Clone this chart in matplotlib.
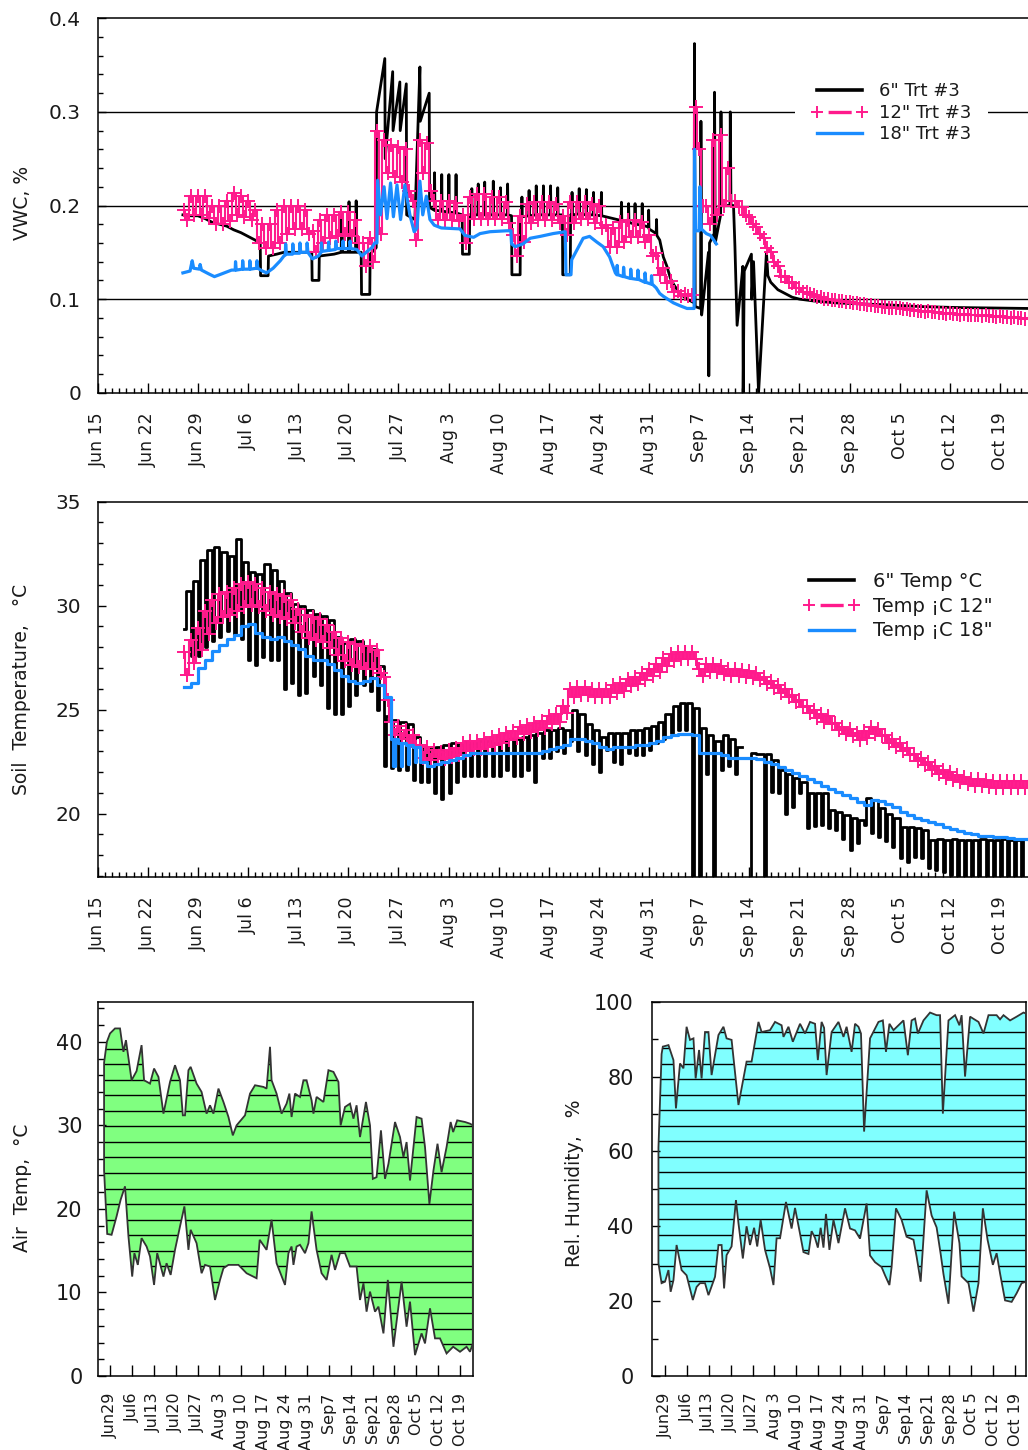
import numpy as np
import matplotlib
matplotlib.use("Agg")
import matplotlib.pyplot as plt
from matplotlib.lines import Line2D
from matplotlib.ticker import MultipleLocator, FixedLocator

plt.rcParams['font.family'] = ['DejaVu Sans']
plt.rcParams['lines.scale_dashes'] = False

# ---------------- DATA (day 0 = Jun 15) ----------------
week_labels = ["Jun 15", "Jun 22", "Jun 29", "Jul 6", "Jul 13", "Jul 20", "Jul 27",
               "Aug 3", "Aug 10", "Aug 17", "Aug 24", "Aug 31", "Sep 7", "Sep 14",
               "Sep 21", "Sep 28", "Oct 5", "Oct 12", "Oct 19"]
week_labels_small = ["Jun29", "Jul6", "Jul13", "Jul20", "Jul27", "Aug 3", "Aug 10",
                     "Aug 17", "Aug 24", "Aug 31", "Sep7", "Sep14", "Sep21", "Sep28",
                     "Oct 5", "Oct 12", "Oct 19"]
daily_days = list(range(12, 131))

# 6" VWC (day, value)
vwc6_points = [
    (11.9, 0.190), (13, 0.189), (14, 0.189), (15, 0.186), (16, 0.182), (17, 0.180), (18, 0.178),
    (19, 0.174), (20, 0.171), (21, 0.167), (22, 0.163), (22.7, 0.160), (22.75, 0.125), (23.8, 0.125),
    (23.85, 0.146), (25, 0.148), (26, 0.150), (27, 0.150), (28, 0.150), (29, 0.150), (29.9, 0.150),
    (29.95, 0.120), (30.9, 0.120), (30.95, 0.146), (32, 0.147), (33, 0.148), (34, 0.150),
    (34.1, 0.190), (34.2, 0.150), (35, 0.150), (35.1, 0.204), (35.2, 0.150), (36, 0.150),
    (36.1, 0.205), (36.2, 0.150), (36.8, 0.150), (36.85, 0.105), (38, 0.105), (38.05, 0.148),
    (38.9, 0.155), (38.95, 0.300), (40.1, 0.357), (40.15, 0.250), (41.2, 0.343), (41.25, 0.280),
    (42.2, 0.332), (42.25, 0.280), (43.1, 0.330), (43.15, 0.190), (44.3, 0.185), (45.0, 0.348),
    (45.05, 0.290), (46.3, 0.320), (46.35, 0.198), (47.0, 0.195), (47.05, 0.235), (47.1, 0.195),
    (48.0, 0.194), (48.05, 0.233), (48.1, 0.194), (49.0, 0.193), (49.05, 0.233), (49.1, 0.193),
    (50.0, 0.192), (50.05, 0.233), (50.1, 0.192), (50.9, 0.190), (50.95, 0.148), (51.9, 0.148),
    (51.95, 0.190), (52.2, 0.190), (52.25, 0.218), (52.3, 0.190), (53.1, 0.190), (53.15, 0.223),
    (53.2, 0.190), (54.0, 0.190), (54.05, 0.225), (54.1, 0.190), (55.2, 0.190), (55.25, 0.226),
    (55.3, 0.190), (56.2, 0.190), (56.25, 0.219), (56.3, 0.190), (57.2, 0.190), (57.25, 0.223),
    (57.3, 0.190), (57.8, 0.189), (57.85, 0.126), (59.0, 0.126), (59.05, 0.188), (59.2, 0.188),
    (59.25, 0.209), (59.3, 0.188), (60.2, 0.189), (60.25, 0.216), (60.3, 0.189), (61.2, 0.190),
    (61.25, 0.221), (61.3, 0.190), (62.2, 0.190), (62.25, 0.221), (62.3, 0.190), (63.2, 0.190),
    (63.25, 0.221), (63.3, 0.190), (64.2, 0.190), (64.25, 0.219), (64.3, 0.190), (64.9, 0.190),
    (64.95, 0.126), (66.0, 0.126), (66.05, 0.190), (66.2, 0.190), (66.25, 0.214), (66.3, 0.190),
    (67.2, 0.191), (67.25, 0.218), (67.3, 0.191), (68.2, 0.190), (68.25, 0.217), (68.3, 0.190),
    (69.2, 0.190), (69.25, 0.214), (69.3, 0.190), (70.3, 0.189), (70.35, 0.214), (70.4, 0.189),
    (72.0, 0.186), (73.1, 0.184), (73.15, 0.2035), (73.2, 0.184), (74.1, 0.182), (74.15, 0.202),
    (74.2, 0.182), (75.0, 0.180), (75.05, 0.202), (75.1, 0.180), (76.0, 0.179), (76.05, 0.202),
    (76.1, 0.179), (76.9, 0.177), (76.95, 0.195), (77.0, 0.175), (78.0, 0.170), (78.05, 0.185),
    (78.1, 0.168), (78.5, 0.163), (79.0, 0.145), (79.5, 0.135), (80.0, 0.122), (80.5, 0.115),
    (81.3, 0.106), (82.3, 0.100), (83.3, 0.096), (83.35, 0.373), (83.45, 0.092), (84.2, 0.090),
    (84.25, 0.290), (84.35, 0.083), (84.6, 0.100), (85.3, 0.150), (85.35, 0.018), (85.45, 0.160),
    (86.1, 0.170), (86.15, 0.321), (86.25, 0.160), (87.0, 0.190), (87.05, 0.300), (87.15, 0.200),
    (88.3, 0.200), (88.35, 0.300), (88.45, 0.200), (88.8, 0.200), (89.0, 0.156), (89.3, 0.072),
    (89.8, 0.110), (90.1, 0.135), (90.15, 0.000), (90.3, 0.130), (91.3, 0.148), (91.35, 0.100),
    (91.6, 0.140), (92.3, 0.000), (93.4, 0.150), (93.6, 0.125), (94, 0.118), (95, 0.110),
    (96, 0.106), (97, 0.102), (98, 0.100), (100, 0.098), (103, 0.096), (106, 0.095), (110, 0.094),
    (115, 0.092), (120, 0.091), (125, 0.0905), (130, 0.090)]

# 12" VWC, two samples per day (first half / second half of day)
vwc12_am = [0.195, 0.210, 0.210, 0.210, 0.200, 0.200, 0.205, 0.213, 0.210, 0.205,
            0.195, 0.180, 0.180, 0.195, 0.200, 0.200, 0.200, 0.195, 0.173, 0.185,
            0.190, 0.190, 0.193, 0.193, 0.185, 0.160, 0.165, 0.280, 0.270, 0.265,
            0.263, 0.260, 0.205, 0.270, 0.267, 0.205, 0.205, 0.205, 0.203, 0.190,
            0.209, 0.212, 0.212, 0.209, 0.209, 0.204, 0.169, 0.189, 0.202, 0.204,
            0.204, 0.204, 0.202, 0.189, 0.204, 0.204, 0.204, 0.202, 0.199, 0.179,
            0.176, 0.182, 0.184, 0.184, 0.182, 0.169, 0.149, 0.133, 0.119, 0.109,
            0.105, 0.104, 0.260, 0.200, 0.270, 0.275, 0.240, 0.205, 0.198, 0.188,
            0.177, 0.165, 0.150, 0.135, 0.124, 0.117, 0.112, 0.108, 0.104, 0.102,
            0.100, 0.099, 0.098, 0.097, 0.096, 0.095, 0.094, 0.093, 0.092, 0.091,
            0.090, 0.089, 0.088, 0.0875, 0.087, 0.086, 0.0855, 0.085, 0.0845, 0.084,
            0.0835, 0.083, 0.0825, 0.082, 0.0815, 0.081, 0.0805, 0.080, 0.0795]
vwc12_pm = [0.185, 0.190, 0.190, 0.187, 0.180, 0.180, 0.183, 0.190, 0.188, 0.185,
            0.160, 0.155, 0.155, 0.160, 0.170, 0.175, 0.175, 0.170, 0.150, 0.160,
            0.165, 0.167, 0.170, 0.167, 0.160, 0.135, 0.140, 0.170, 0.235, 0.230,
            0.225, 0.215, 0.163, 0.235, 0.215, 0.185, 0.185, 0.185, 0.183, 0.160,
            0.186, 0.186, 0.186, 0.186, 0.186, 0.181, 0.146, 0.161, 0.181, 0.184,
            0.184, 0.184, 0.181, 0.168, 0.181, 0.186, 0.186, 0.181, 0.176, 0.156,
            0.156, 0.161, 0.166, 0.166, 0.161, 0.146, 0.126, 0.117, 0.108, 0.103,
            0.103, 0.305, 0.200, 0.180, 0.190, 0.200, 0.205, 0.198, 0.190, 0.180,
            0.170, 0.155, 0.140, 0.125, 0.118, 0.112, 0.108, 0.105, 0.102, 0.100,
            0.099, 0.098, 0.097, 0.096, 0.095, 0.094, 0.093, 0.092, 0.091, 0.090,
            0.089, 0.088, 0.087, 0.0865, 0.086, 0.085, 0.0845, 0.084, 0.0835, 0.083,
            0.0825, 0.082, 0.0815, 0.081, 0.0805, 0.080, 0.0795, 0.079, 0.0785]

# 18" VWC (day, value)
vwc18_points = [
    (11.9, 0.128), (12.9, 0.130), (13.0, 0.134), (13.2, 0.141), (13.4, 0.133), (14.2, 0.132),
    (14.3, 0.137), (14.5, 0.131), (15.5, 0.127), (16.3, 0.124), (17.0, 0.126), (18.0, 0.129),
    (18.7, 0.131), (19.2, 0.131), (19.25, 0.140), (19.35, 0.131), (20.2, 0.132), (20.25, 0.141),
    (20.35, 0.132), (21.2, 0.132), (21.25, 0.141), (21.35, 0.132), (22.2, 0.133), (22.25, 0.141),
    (22.35, 0.133), (23.0, 0.130), (23.6, 0.128), (24.5, 0.133), (25.5, 0.141), (26.0, 0.146),
    (26.2, 0.147), (26.25, 0.159), (26.35, 0.148), (27.2, 0.148), (27.25, 0.159), (27.35, 0.149),
    (28.2, 0.149), (28.25, 0.160), (28.35, 0.150), (29.2, 0.150), (29.25, 0.160), (29.35, 0.150),
    (30.0, 0.143), (30.8, 0.146), (31.2, 0.150), (31.25, 0.160), (31.35, 0.151), (32.2, 0.152),
    (32.25, 0.161), (32.35, 0.152), (33.2, 0.153), (33.25, 0.162), (33.35, 0.154), (34.2, 0.154),
    (34.25, 0.162), (34.35, 0.154), (35.2, 0.154), (35.25, 0.162), (35.35, 0.154), (36.2, 0.153),
    (36.9, 0.146), (37.8, 0.152), (38.3, 0.155), (38.7, 0.160), (39.0, 0.160), (39.1, 0.227),
    (39.5, 0.190), (40.0, 0.220), (40.4, 0.186), (40.9, 0.224), (41.3, 0.188), (41.8, 0.222),
    (42.3, 0.185), (42.9, 0.222), (43.6, 0.190), (44.2, 0.172), (44.6, 0.176), (45.0, 0.226),
    (45.4, 0.190), (45.9, 0.210), (46.4, 0.185), (47.0, 0.179), (48.0, 0.176), (50.6, 0.175),
    (51.3, 0.168), (52.5, 0.166), (53.4, 0.170), (54.8, 0.172), (57.1, 0.173), (57.7, 0.173),
    (57.8, 0.159), (58.3, 0.156), (59.4, 0.159), (60.4, 0.165), (61.8, 0.167), (63.6, 0.170),
    (65.3, 0.172), (65.4, 0.126), (66.1, 0.126), (66.2, 0.142), (66.9, 0.152), (67.8, 0.165),
    (68.7, 0.167), (69.7, 0.161), (70.6, 0.156), (71.5, 0.145), (72.3, 0.128), (72.5, 0.126),
    (72.55, 0.136), (72.65, 0.126), (73.4, 0.124), (73.45, 0.134), (73.55, 0.124), (74.4, 0.122),
    (74.45, 0.132), (74.55, 0.122), (75.4, 0.121), (75.45, 0.131), (75.55, 0.121), (76.4, 0.118),
    (76.45, 0.128), (76.55, 0.118), (77.3, 0.116), (77.35, 0.125), (77.45, 0.116), (78.0, 0.112),
    (78.5, 0.106), (79.0, 0.103), (79.6, 0.100), (80.4, 0.096), (81.3, 0.093), (82.3, 0.090),
    (83.3, 0.090), (83.35, 0.260), (83.5, 0.173), (84.0, 0.173), (84.1, 0.220), (84.3, 0.175),
    (85.0, 0.170), (85.6, 0.168), (86.4, 0.159)]

# 6" soil temperature: daily high / low (10 = off-scale low)
nan = float('nan')
temp6_hi = [30.7, 31.2, 32.2, 32.7, 32.8, 32.6, 32.4, 33.2, 32.1, 31.6,
            31.5, 32.0, 31.7, 31.2, 30.6, 30.1, 30.0, 29.8, 29.6, 29.5,
            29.3, 28.5, 28.2, 28.4, 28.3, 28.0, 27.9, 27.1, 24.7, 24.5,
            24.4, 24.3, 23.7, 23.2, 23.2, 23.2, 23.3, 23.4, 23.4, 23.45,
            23.4, 23.5, 23.5, 23.4, 23.5, 23.6, 23.6, 23.7, 23.8, 23.9,
            24.0, 24.0, 24.1, 24.0, 25.0, 24.8, 24.3, 24.0, 23.7, 23.9,
            23.9, 23.9, 24.0, 24.0, 24.1, 24.2, 24.4, 24.8, 25.2, 25.3,
            25.3, 25.1, 24.1, 23.8, 23.5, 23.8, 23.6, 23.2, nan, 22.9,
            22.85, 22.86, 22.6, 22.1, 21.9, 21.7, 21.54, 20.98, 20.98, 20.98,
            20.18, 20.1, 19.94, 19.78, 19.7, 20.74, 20.66, 20.26, 20.0, 19.8,
            19.37, 19.37, 19.3, 19.2, 18.74, 18.8, 18.74, 18.8, 18.74, 18.74,
            18.74, 18.8, 18.74, 18.74, 18.8, 18.74, 18.74, 18.8, 18.74]
temp6_lo = [28.9, 27.6, 27.6, 28.0, 28.3, 28.5, 28.8, 28.6, 28.4, 27.4,
            27.15, 27.55, 27.4, 27.4, 26.0, 26.3, 25.7, 25.8, 26.6, 26.2,
            25.1, 24.8, 24.8, 25.2, 25.7, 26.2, 25.9, 25.0, 22.3, 22.2,
            22.1, 22.1, 21.6, 21.5, 21.5, 21.0, 20.7, 21.0, 21.5, 21.8,
            21.8, 21.8, 21.8, 21.8, 21.8, 22.1, 21.8, 21.8, 22.1, 21.5,
            22.66, 22.66, 23.0, 22.9, 23.5, 23.0, 22.8, 22.4, 22.0, 23.06,
            22.5, 22.4, 22.9, 22.8, 22.8, 23.06, 23.4, 23.6, 23.86, 24.0,
            24.0, 10.0, 10.0, 21.9, 10.0, 22.1, 22.3, 21.9, nan, 10.0,
            22.85, 10.0, 21.06, 20.98, 20.0, 20.34, 20.98, 19.3, 19.4, 19.46,
            19.3, 19.2, 18.8, 18.25, 18.57, 19.46, 19.05, 18.9, 18.7, 18.4,
            17.85, 17.7, 17.93, 17.85, 17.37, 17.3, 17.2, 17.06, 16.5, 16.5,
            16.5, 16.5, 16.5, 16.5, 16.5, 16.5, 16.5, 16.5, 16.5]

# 12" soil temperature: daily mid value and half spread
temp12_mid = [27.2, 27.8, 28.4, 29.2, 29.7, 30.0, 30.1, 30.3, 30.5, 30.6,
              30.5, 30.3, 30.1, 30.0, 29.9, 29.7, 29.3, 29.0, 28.9, 28.8,
              28.5, 28.2, 27.9, 27.7, 27.6, 27.5, 27.5, 27.3, 26.0, 24.1,
              23.9, 23.7, 23.5, 23.0, 22.9, 22.9, 22.8, 22.9, 23.0, 23.2,
              23.3, 23.3, 23.4, 23.5, 23.6, 23.7, 23.8, 24.0, 24.1, 24.2,
              24.3, 24.5, 24.6, 25.0, 25.8, 25.9, 25.9, 25.8, 25.8, 25.8,
              26.0, 26.1, 26.3, 26.4, 26.6, 26.8, 27.0, 27.3, 27.5, 27.6,
              27.6, 27.6, 26.8, 27.0, 27.0, 26.9, 26.8, 26.8, 26.75, 26.7,
              26.6, 26.4, 26.2, 26.0, 25.8, 25.55, 25.3, 25.0, 24.8, 24.6,
              24.5, 24.2, 24.0, 23.9, 23.7, 23.8, 24.0, 23.9, 23.6, 23.4,
              23.2, 23.0, 22.7, 22.5, 22.3, 22.1, 21.9, 21.8, 21.7, 21.6,
              21.5, 21.5, 21.45, 21.4, 21.4, 21.4, 21.4, 21.4, 21.4]
temp12_half = [0.55] * 29 + [0.3] * 6 + [0.18] * 84

# 18" soil temperature: daily value, plus short dips
temp18 = [26.1, 26.3, 27.0, 27.4, 27.8, 28.1, 28.4, 28.6, 29.0, 29.1,
          28.7, 28.5, 28.4, 28.5, 28.3, 28.1, 27.9, 27.6, 27.4, 27.4,
          27.2, 26.9, 26.6, 26.4, 26.3, 26.4, 26.5, 26.2, 25.6, 23.6,
          23.4, 23.3, 23.2, 22.5, 22.3, 22.4, 22.5, 22.6, 22.7, 22.8,
          22.9, 22.9, 22.9, 22.9, 22.9, 22.9, 22.9, 22.9, 22.9, 22.9,
          23.0, 23.1, 23.2, 23.3, 23.6, 23.6, 23.5, 23.4, 23.2, 23.1,
          23.2, 23.2, 23.2, 23.3, 23.3, 23.4, 23.5, 23.7, 23.8, 23.85,
          23.85, 23.8, 22.9, 22.9, 22.9, 22.8, 22.7, 22.7, 22.7, 22.7,
          22.65, 22.5, 22.4, 22.25, 22.1, 21.95, 21.8, 21.65, 21.5, 21.35,
          21.2, 21.05, 20.9, 20.75, 20.55, 20.4, 20.65, 20.6, 20.45, 20.3,
          20.1, 19.95, 19.8, 19.7, 19.6, 19.5, 19.35, 19.25, 19.15, 19.05,
          19.0, 18.95, 18.95, 18.9, 18.9, 18.85, 18.8, 18.8, 18.8]
temp18_dip_days = [41, 42, 43, 44]
temp18_dip_vals = [22.3, 22.3, 22.4, 22.5]

# Air temperature envelope (day, degC)
air_max = [(12.1, 37.5), (13.0, 40.0), (14.0, 41.0), (15.6, 41.6), (17.2, 41.6), (17.8, 40.0),
           (18.3, 38.8), (19.1, 40.2), (20.9, 35.4), (22.5, 36.5), (24.1, 39.6), (24.9, 35.4),
           (26.8, 35.0), (28.1, 36.8), (29.5, 35.8), (31.1, 31.4), (33.2, 35.2), (34.8, 37.2),
           (36.4, 35.4), (37.3, 31.2), (38.0, 31.2), (39.1, 36.6), (39.8, 37.0), (41.7, 35.0),
           (43.3, 34.0), (44.9, 31.4), (46.0, 32.4), (47.1, 31.4), (48.7, 34.4), (50.3, 32.8),
           (51.9, 31.0), (53.3, 28.8), (54.5, 30.0), (57.2, 31.2), (58.8, 33.8), (60.4, 34.8),
           (63.1, 34.6), (64.1, 34.4), (65.2, 39.4), (65.7, 35.4), (67.3, 33.8), (68.9, 31.4),
           (70.5, 32.6), (71.4, 33.8), (72.1, 31.0), (73.2, 33.8), (74.8, 33.4), (75.9, 35.4),
           (76.9, 35.4), (78.5, 33.0), (79.1, 31.4), (80.1, 33.4), (82.3, 32.8), (83.9, 36.6),
           (85.5, 36.4), (87.1, 35.2), (87.8, 30.0), (89.2, 32.2), (90.8, 32.6), (91.9, 30.8),
           (92.9, 32.4), (94.0, 28.6), (95.9, 32.8), (97.2, 30.0), (98.1, 23.6), (99.3, 23.8),
           (100.7, 29.4), (102.0, 23.6), (103.1, 25.4), (105.2, 30.4), (106.8, 28.6), (107.9, 26.2),
           (108.9, 28.0), (110.0, 23.4), (112.1, 31.0), (113.7, 30.8), (114.8, 27.4), (116.2, 20.6),
           (117.5, 24.6), (118.8, 27.8), (120.1, 24.4), (121.7, 27.4), (123.0, 30.4), (123.8, 29.2),
           (125.1, 30.6), (127.6, 30.4), (129.2, 30.2), (130.1, 30.0)]
air_min = [(12.1, 24.6), (13.1, 17.0), (14.5, 16.9), (16.1, 19.1), (17.4, 21.1), (18.8, 22.7),
           (19.9, 16.7), (21.1, 11.9), (21.8, 14.7), (22.9, 13.3), (24.1, 16.5), (25.7, 15.5),
           (26.8, 14.3), (28.1, 10.9), (29.1, 14.7), (31.1, 11.9), (32.1, 13.5), (33.4, 12.1),
           (34.8, 15.1), (36.4, 17.9), (37.8, 20.3), (39.1, 15.1), (39.8, 17.5), (41.7, 15.9),
           (43.3, 12.3), (44.4, 13.3), (46.0, 13.1), (47.6, 9.1), (49.2, 11.5), (50.3, 12.9),
           (51.9, 13.3), (55.1, 13.3), (57.7, 12.3), (60.9, 11.7), (61.9, 16.3), (64.1, 15.1),
           (65.7, 18.7), (67.3, 13.5), (70.0, 10.9), (71.1, 14.7), (72.1, 15.5), (72.7, 13.3),
           (73.7, 15.5), (74.8, 15.7), (76.4, 14.7), (77.5, 15.9), (78.5, 19.7), (80.1, 15.1),
           (81.7, 12.3), (83.3, 11.5), (84.9, 14.5), (86.0, 12.7), (87.6, 14.7), (89.2, 14.7),
           (90.8, 13.1), (92.9, 13.1), (94.0, 9.1), (95.1, 11.1), (96.1, 7.7), (97.2, 10.1),
           (98.8, 7.7), (99.9, 8.3), (101.5, 5.1), (102.9, 11.5), (104.7, 3.5), (106.3, 8.3),
           (107.3, 11.3), (108.9, 5.9), (110.0, 8.9), (111.6, 2.5), (113.7, 5.1), (114.8, 3.9),
           (116.4, 8.1), (118.0, 4.5), (119.6, 4.5), (121.7, 2.7), (123.8, 3.5), (126.0, 2.9),
           (128.1, 3.5), (129.2, 2.9), (130.1, 3.9)]

# Relative humidity envelope (day, %)
rh_max = [(11.9, 61.0), (12.9, 86.0), (13.3, 88.0), (15.1, 88.4), (16.7, 84.4), (17.5, 71.5),
          (18.8, 83.5), (19.9, 82.2), (20.9, 93.3), (22.0, 89.8), (23.1, 90.2), (23.8, 79.5),
          (24.9, 87.1), (25.7, 79.5), (26.8, 91.9), (27.9, 91.9), (28.9, 80.4), (31.1, 91.1),
          (32.7, 93.3), (33.7, 90.2), (35.3, 89.8), (37.5, 72.4), (40.1, 84.0), (41.7, 84.0),
          (43.9, 94.6), (44.9, 91.9), (47.6, 92.4), (49.2, 94.6), (51.3, 93.7), (51.9, 90.6),
          (53.5, 93.3), (54.9, 89.3), (57.2, 94.1), (58.8, 91.5), (60.4, 94.6), (62.0, 94.1),
          (62.9, 84.4), (64.1, 94.6), (64.9, 93.0), (65.7, 80.4), (67.3, 91.9), (69.5, 94.6),
          (71.1, 90.6), (72.1, 93.3), (73.7, 86.6), (74.8, 94.1), (75.9, 93.3), (76.7, 91.5),
          (77.7, 65.3), (79.6, 90.2), (82.3, 94.6), (83.7, 95.0), (84.7, 86.6), (85.8, 94.1),
          (87.1, 92.4), (90.3, 95.0), (91.7, 85.7), (92.9, 95.0), (94.0, 95.5), (94.9, 91.5),
          (96.7, 95.0), (98.8, 97.1), (100.9, 96.4), (102.0, 96.4), (102.9, 70.1), (104.7, 95.0),
          (106.8, 96.4), (108.2, 93.7), (108.9, 96.4), (110.0, 80.0), (111.6, 96.0), (114.3, 94.6),
          (115.9, 91.5), (117.5, 96.4), (120.1, 96.4), (121.2, 95.3), (122.3, 96.4), (124.4, 95.0),
          (126.5, 96.0), (128.7, 97.1), (129.6, 96.8)]
rh_min = [(11.9, 30.1), (12.9, 24.8), (14.0, 25.2), (15.1, 28.3), (15.8, 22.5), (16.7, 25.6),
          (17.7, 35.0), (19.3, 28.3), (20.9, 26.9), (22.9, 20.3), (24.1, 23.8), (25.2, 24.8),
          (26.8, 24.8), (27.9, 21.6), (30.0, 26.5), (31.1, 35.0), (32.1, 35.0), (32.9, 23.4),
          (33.7, 32.3), (35.3, 34.6), (36.7, 47.0), (37.5, 40.8), (38.9, 31.4), (40.1, 40.0),
          (41.2, 35.0), (42.5, 39.6), (43.5, 34.6), (44.6, 41.7), (46.0, 33.7), (47.6, 28.8),
          (48.7, 24.3), (49.7, 36.8), (50.8, 36.8), (52.7, 46.5), (54.5, 39.4), (55.6, 44.9),
          (57.2, 38.0), (58.3, 33.1), (59.9, 32.6), (60.9, 38.7), (62.0, 36.9), (62.9, 34.3),
          (63.8, 39.6), (64.7, 34.3), (65.5, 43.3), (66.6, 33.7), (67.9, 41.7), (69.5, 35.5),
          (71.6, 44.8), (73.2, 39.4), (74.8, 38.9), (76.4, 36.7), (78.5, 46.1), (79.6, 32.2),
          (81.2, 30.4), (83.3, 29.1), (84.4, 26.9), (85.8, 24.3), (86.5, 29.1), (87.9, 44.8),
          (89.7, 41.7), (91.3, 37.2), (93.5, 36.4), (94.5, 31.9), (95.8, 25.2), (97.7, 49.6),
          (99.3, 42.9), (100.9, 39.7), (102.2, 32.6), (103.1, 27.2), (104.7, 19.3), (106.5, 43.9),
          (108.2, 35.5), (108.9, 26.6), (111.1, 24.8), (112.7, 17.2), (114.3, 24.8), (115.7, 44.8),
          (117.2, 36.4), (118.9, 29.7), (120.1, 32.8), (121.2, 27.4), (122.8, 20.2), (124.9, 19.8),
          (126.5, 22.1), (128.1, 24.8), (129.6, 25.2)]

# ---------------- STYLE ----------------
W, H = 1028, 1450
PINK = '#ff1a8c'
BLUE = '#1a8cff'
TXT = '#1a1a1a'

fig = plt.figure(figsize=(W / 100, H / 100), dpi=100)
fig.patch.set_facecolor('white')


def rect(l, t, r, b):
    return [l / W, 1 - b / H, (r - l) / W, (b - t) / H]


def style_axis(ax, xpad, ypad, xsize, ysize, xmaj=7, xmin_len=3.5, ymaj=6, ymin=3.5):
    for s in ax.spines.values():
        s.set_linewidth(1.1)
    ax.tick_params(which='both', direction='in', colors='k', labelcolor=TXT, width=1.0)
    ax.tick_params(axis='x', which='major', length=xmaj, pad=xpad, labelsize=xsize, labelrotation=90)
    ax.tick_params(axis='x', which='minor', length=xmin_len)
    ax.tick_params(axis='y', which='major', length=ymaj, pad=ypad, labelsize=ysize)
    ax.tick_params(axis='y', which='minor', length=ymin)


week_pos = list(range(0, 127, 7))
MK = dict(marker='+', ms=9.5, mew=1.4)

# ---------- Panel 1 : VWC ----------
ax1 = fig.add_axes(rect(97.7, 18.3, 1028, 392.7))
x_right = (1028 - 97.7) / 7.16
ax1.set_xlim(0, x_right)
ax1.set_ylim(0, 0.4)
ax1.spines['right'].set_visible(False)
for g in (0.1, 0.2, 0.3):
    ax1.axhline(g, color='k', lw=1.0, zorder=0.5)

t6 = [p[0] for p in vwc6_points]
v6 = [p[1] for p in vwc6_points]
ax1.plot(t6, v6, color='k', lw=2.0, zorder=2)

t12, v12 = [], []
for d, a, b in zip(daily_days, vwc12_am, vwc12_pm):
    t12 += [d, d + 0.5]
    v12 += [a, b]
ax1.plot(t12, v12, color=PINK, lw=1.5, drawstyle='steps-mid', zorder=3, **MK)

t18 = [p[0] for p in vwc18_points]
v18 = [p[1] for p in vwc18_points]
ax1.plot(t18, v18, color=BLUE, lw=2.3, zorder=4)

ax1.xaxis.set_major_locator(FixedLocator(week_pos))
ax1.set_xticklabels(week_labels)
ax1.xaxis.set_minor_locator(MultipleLocator(1))
ax1.set_yticks([0, 0.1, 0.2, 0.3, 0.4])
ax1.set_yticklabels(['0', '0.1', '0.2', '0.3', '0.4'])
ax1.yaxis.set_minor_locator(MultipleLocator(0.02))
style_axis(ax1, 14, 12, 12.5, 14.5)

h_black = Line2D([], [], color='k', lw=2.6)
h_pink = Line2D([], [], color=PINK, lw=2.4, marker='+', ms=9, mew=1.4,
                ls=(27.6, (16.6, 19.0)))
h_blue = Line2D([], [], color=BLUE, lw=2.4)
leg1 = ax1.legend([h_black, h_pink, h_blue], ['6" Trt #3', '12" Trt #3', '18" Trt #3'],
                  loc='upper left', bbox_to_anchor=(795 / W, 1 - 66 / H),
                  bbox_transform=fig.transFigure, frameon=True, facecolor='white',
                  edgecolor='none', framealpha=1, fancybox=False, fontsize=13,
                  handlelength=3.1, handletextpad=0.67, borderpad=0.9, labelspacing=0.2,
                  borderaxespad=0, numpoints=2)
for t in leg1.get_texts():
    t.set_color(TXT)
leg1.set_zorder(10)

# ---------- Panel 2 : Soil temperature ----------
ax2 = fig.add_axes(rect(97.7, 501.7, 1028, 876.7))
ax2.set_xlim(0, x_right)
ax2.set_ylim(16.97, 35)
ax2.spines['right'].set_visible(False)

bt, bv = [], []
for d, lo, hi in zip(daily_days, temp6_lo, temp6_hi):
    bt += [d, d + 0.28]
    bv += [lo, hi]
ax2.plot(bt, bv, color='k', lw=2.0, drawstyle='steps-post', zorder=2)

pt, pv = [], []
for d, m, h in zip(daily_days, temp12_mid, temp12_half):
    pt += [d, d + 0.5]
    pv += [m + h, m - h]
ax2.plot(pt, pv, color=PINK, lw=1.5, drawstyle='steps-mid', zorder=3, **MK)

blt, blv = [], []
for d, v in zip(daily_days, temp18):
    blt.append(d)
    blv.append(v)
    if d in temp18_dip_days:
        k = temp18_dip_days.index(d)
        blt += [d + 0.3, d + 0.5]
        blv += [temp18_dip_vals[k], v]
ax2.plot(blt, blv, color=BLUE, lw=2.3, drawstyle='steps-post', zorder=4)

ax2.xaxis.set_major_locator(FixedLocator(week_pos))
ax2.set_xticklabels(week_labels)
ax2.xaxis.set_minor_locator(MultipleLocator(1))
ax2.set_yticks([20, 25, 30, 35])
ax2.yaxis.set_minor_locator(MultipleLocator(1))
style_axis(ax2, 14, 12, 12.5, 14.5)

leg2 = ax2.legend([h_black, h_pink, h_blue], ['6" Temp °C', 'Temp ¡C 12"', 'Temp ¡C 18"'],
                  loc='upper left', bbox_to_anchor=(793 / W, 1 - 562 / H),
                  bbox_transform=fig.transFigure, frameon=True, facecolor='white',
                  edgecolor='none', framealpha=1, fancybox=False, fontsize=14,
                  handlelength=2.94, handletextpad=0.67, borderpad=0.5, labelspacing=0.3,
                  borderaxespad=0, numpoints=2)
for t in leg2.get_texts():
    t.set_color(TXT)
leg2.set_zorder(10)

# ---------- Panels 3 & 4 : envelopes ----------
small_pos = list(range(14, 127, 7))


def envelope(ax, top, bot, color, hatch_start, hatch_step, ymin):
    xs = [p[0] for p in top] + [p[0] for p in bot][::-1]
    ys = [p[1] for p in top] + [p[1] for p in bot][::-1]
    poly = ax.fill(xs, ys, facecolor=color, edgecolor='none', zorder=1)[0]
    hy = np.arange(hatch_start, ymin, -hatch_step)
    lc = ax.hlines(hy, 0, 140, colors='k', lw=1.0, zorder=2)
    lc.set_clip_path(poly)
    ax.fill(xs, ys, facecolor='none', edgecolor='#333333', lw=1.3, zorder=3)


ax3 = fig.add_axes(rect(97.7, 1001.7, 472.7, 1376))
ax3.set_xlim(10.06, 130.06)
ax3.set_ylim(0, 44.8)
envelope(ax3, air_max, air_min, '#80ff80', 39.19, 1.862, 0)
ax3.xaxis.set_major_locator(FixedLocator(small_pos))
ax3.set_xticklabels(week_labels_small)
ax3.set_yticks([0, 10, 20, 30, 40])
ax3.yaxis.set_minor_locator(MultipleLocator(2))
style_axis(ax3, 12, 11, 11.5, 15, xmaj=8, ymaj=6, ymin=4)

ax4 = fig.add_axes(rect(651.7, 1001.7, 1026, 1376))
ax4.set_xlim(9.74, 129.5)
ax4.set_ylim(0, 100)
envelope(ax4, rh_max, rh_min, '#80ffff', 91.8, 4.159, 0)
ax4.xaxis.set_major_locator(FixedLocator(small_pos))
ax4.set_xticklabels(week_labels_small)
ax4.set_yticks([0, 20, 40, 60, 80, 100])
ax4.yaxis.set_minor_locator(MultipleLocator(10))
style_axis(ax4, 12, 13, 11.5, 15, xmaj=8, ymaj=6, ymin=4)

# ---------- axis titles ----------
fig.text(22 / W, 1 - 203 / H, 'VWC, %', rotation=90, ha='center', va='center',
         fontsize=13.5, color=TXT)
fig.text(22 / W, 1 - 689 / H, 'Soil  Temperature,   °C', rotation=90, ha='center',
         va='center', fontsize=13.5, color=TXT)
fig.text(23 / W, 1 - 1188 / H, 'Air  Temp,  °C', rotation=90, ha='center', va='center',
         fontsize=13.5, color=TXT)
fig.text(575 / W, 1 - 1183 / H, 'Rel. Humidity,   %', rotation=90, ha='center',
         va='center', fontsize=13.5, color=TXT)

fig.savefig('out.png', dpi=100, facecolor='white')
